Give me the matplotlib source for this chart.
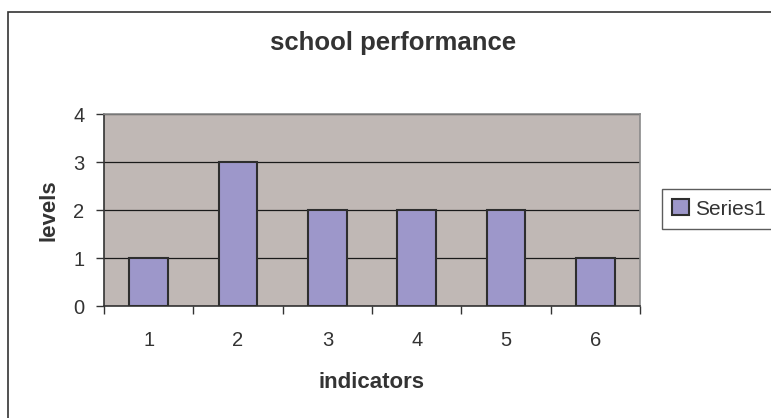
import matplotlib
matplotlib.use("Agg")
import matplotlib.pyplot as plt
from matplotlib.patches import Rectangle

categories = ["1", "2", "3", "4", "5", "6"]
values = [1, 3, 2, 2, 2, 1]
series_name = "Series1"
title = "school performance"
xlabel = "indicators"
ylabel = "levels"

plt.rcParams['font.family'] = ['Liberation Sans', 'DejaVu Sans']
W, H = 771, 418
fig = plt.figure(figsize=(W / 100, H / 100), dpi=100)
fig.patch.set_facecolor('white')

# outer chart border
fig.patches.append(Rectangle((8 / W, -0.1), 1.2, 1 - 12 / H + 0.1, transform=fig.transFigure,
                             fill=False, edgecolor='#333333', linewidth=1.2, figure=fig))

l, r, t, b = 104, 640, 114, 306
ax = fig.add_axes([l / W, 1 - b / H, (r - l) / W, (b - t) / H])
ax.set_facecolor('#C0B8B5')

x = list(range(len(categories)))
ax.bar(x, values, width=0.43, color='#9D97CA', edgecolor='#2e2e2e', linewidth=1.5,
       label=series_name, zorder=3)
ax.set_xlim(-0.5, len(categories) - 0.5)
ax.set_ylim(0, 4)
ax.set_yticks([0, 1, 2, 3, 4])
ax.yaxis.grid(True, color='#1a1a1a', linewidth=0.9, zorder=1)
ax.set_axisbelow(True)

# x ticks at category boundaries, labels centered
ax.set_xticks([i - 0.5 for i in range(len(categories) + 1)])
ax.set_xticklabels([])
ax.set_xticks(x, minor=True)
ax.set_xticklabels(categories, minor=True)
ax.tick_params(axis='x', which='major', direction='out', length=6, width=1, color='#333333')
ax.tick_params(axis='x', which='minor', length=0, pad=18, labelsize=14.5, labelcolor='#333333')
ax.tick_params(axis='y', direction='out', length=6, width=1, color='#333333', pad=8,
               labelsize=14.5, labelcolor='#333333')

for side in ['top', 'right']:
    ax.spines[side].set_color('#8a8a8a')
    ax.spines[side].set_linewidth(1.2)
for side in ['left', 'bottom']:
    ax.spines[side].set_color('#333333')
    ax.spines[side].set_linewidth(1.2)

ax.set_xlabel(xlabel, fontsize=16, fontweight='bold', color='#333333', labelpad=16)
ax.set_ylabel(ylabel, fontsize=16, fontweight='bold', color='#333333', labelpad=10)

fig.text(393 / W, 1 - 43 / H, title, ha='center', va='center', fontsize=18.5,
         fontweight='bold', color='#333333')

leg = fig.legend(loc='upper left', bbox_to_anchor=(662 / W, 1 - 189 / H), borderaxespad=0,
                 fontsize=15, frameon=True, fancybox=False, handlelength=0.8,
                 handleheight=0.8, handletextpad=0.3, borderpad=0.5)
leg.get_frame().set_edgecolor('#333333')
leg.get_frame().set_linewidth(1.0)
for txt in leg.get_texts():
    txt.set_color('#333333')

fig.savefig('out.png', dpi=100)
